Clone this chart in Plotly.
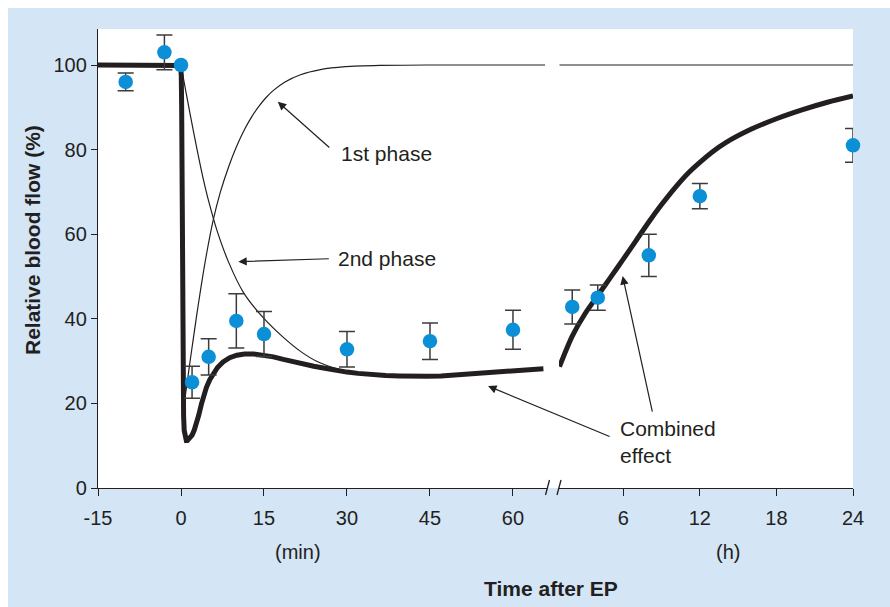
import plotly.graph_objects as go

# ---------------- data ----------------
# measured points, minutes after EP
min_t = [-10, -3, 0, 2, 5, 10, 15, 30, 45, 60]
min_y = [96.0, 103.0, 100.0, 25.0, 31.0, 39.5, 36.4, 32.8, 34.7, 37.4]
min_err = [2.1, 4.1, 0.0, 3.8, 4.3, 6.4, 5.3, 4.2, 4.3, 4.6]

# measured points, hours after EP
hour_t = [2, 4, 8, 12, 24]
hour_y = [42.8, 45.0, 55.0, 69.0, 81.0]
hour_err = [4.0, 3.0, 5.0, 3.0, 4.0]

# combined effect curve (thick)
comb_min_t = [-15, -0.6, -0.25, -0.05, 0.05, 0.12, 0.18, 0.24, 0.3, 0.38, 0.47, 0.58,
              0.72, 0.85, 0.96, 1.15, 1.4, 1.7, 2.0, 2.4, 2.8, 3.2, 3.7, 4.1, 4.6, 5.2,
              5.8, 6.6, 7.6, 8.8, 10.1, 11.5, 13.1, 14.8, 16.7, 18.5, 20, 22, 24, 26, 28,
              30, 32, 34.5, 37, 39.5, 42, 44.5, 47, 49.5, 52, 54.5, 57, 59.5, 62, 65.5]
comb_min_y = [100, 100, 99.9, 99.3, 97.5, 90, 70, 50, 35, 24, 17, 13.6,
              12.0, 11.4, 11.2, 11.2, 11.5, 11.9, 12.5, 13.7, 15.2, 17.2, 19.9, 21.9, 23.8,
              25.6, 27.0, 28.5, 29.8, 30.8, 31.4, 31.7, 31.7, 31.4, 31.0, 30.4, 29.9, 29.3,
              28.8, 28.3, 27.8, 27.4, 27.1, 26.8, 26.6, 26.5, 26.4, 26.4, 26.5, 26.7, 26.9,
              27.1, 27.4, 27.7, 27.9, 28.2]
comb_hour_t = [1.0, 2.0, 3.0, 4.0, 5.0, 6.0, 7.0, 8.0, 9.0, 10.0, 11.0, 12.0, 13.0, 14.0,
               16.0, 18.0, 20.0, 22.0, 24.0]
comb_hour_y = [28.7, 35.9, 41.2, 45.5, 49.8, 54.1, 58.5, 62.9, 67.0, 70.8, 74.2, 77.0,
               79.5, 81.6, 84.8, 87.3, 89.4, 91.2, 92.7]

# 1st phase curve (thin)
ph1_min_t = [0.3, 0.8, 1.7, 2.8, 3.7, 4.6, 5.8, 7.1, 8.6, 10.0, 11.5, 12.8, 14.0, 15.3,
             16.7, 18.8, 21.6, 25.2, 29.7, 36, 45, 55, 65.8]
ph1_min_y = [18, 22, 30.5, 40.5, 48.2, 55.2, 63.2, 69.9, 75.9, 80.6, 84.8, 87.8, 90.1,
             92.2, 94.0, 96.0, 97.7, 98.9, 99.6, 99.9, 100, 100, 100]
ph1_hour_t = [1.0, 24.0]
ph1_hour_y = [100, 100]

# 2nd phase curve (thin)
ph2_min_t = [0, 0.5, 1.2, 2.0, 3.0, 4.0, 5.0, 6.5, 8.6, 11.3, 14.9, 18.5, 21.6, 24.6,
             27.9, 31]
ph2_min_y = [100, 96.4, 91.5, 86.0, 79.4, 73.2, 67.8, 60.9, 53.4, 46.2, 40.2, 35.6,
             32.3, 29.9, 28.3, 27.3]

min_ticks = [-15, 0, 15, 30, 45, 60]
min_tick_text = ["-15", "0", "15", "30", "45", "60"]
hour_ticks = [6, 12, 18, 24]
y_ticks = [0, 20, 40, 60, 80, 100]

# ---------------- styling ----------------
W, H = 890, 607
ML, MR, MT, MB = 98, 37, 29, 119
PW, PH = W - ML - MR, H - MT - MB
INK = "#231f20"
BLUE_BG = "#d4e5f6"
DOT = "#0b8fd6"
FONT = "Liberation Sans, Arial, sans-serif"


def px(x):
    return (x - ML) / PW


def py(y):
    return (H - MB - y) / PH


fig = go.Figure()

line_thick = dict(color=INK, width=5, shape="linear")
line_thick_s = dict(color=INK, width=5, shape="spline", smoothing=0.8)
line_thin = dict(color=INK, width=1.2, shape="spline", smoothing=0.8)

fig.add_trace(go.Scatter(x=ph1_min_t, y=ph1_min_y, mode="lines", line=line_thin,
                         xaxis="x", yaxis="y", hoverinfo="skip"))
fig.add_trace(go.Scatter(x=ph2_min_t, y=ph2_min_y, mode="lines", line=line_thin,
                         xaxis="x", yaxis="y", hoverinfo="skip"))
fig.add_trace(go.Scatter(x=comb_min_t, y=comb_min_y, mode="lines", line=line_thick,
                         xaxis="x", yaxis="y", hoverinfo="skip"))
fig.add_trace(go.Scatter(x=ph1_hour_t, y=ph1_hour_y, mode="lines", line=line_thin,
                         xaxis="x2", yaxis="y", hoverinfo="skip"))
fig.add_trace(go.Scatter(x=comb_hour_t, y=comb_hour_y, mode="lines", line=line_thick_s,
                         xaxis="x2", yaxis="y", hoverinfo="skip"))

err_style = dict(type="data", visible=True, color="#3c3c3c", thickness=1.5, width=8)

e_t = [t for t, e in zip(min_t, min_err) if e > 0]
e_y = [v for v, e in zip(min_y, min_err) if e > 0]
e_e = [e for e in min_err if e > 0]
n_t = [t for t, e in zip(min_t, min_err) if e <= 0]
n_y = [v for v, e in zip(min_y, min_err) if e <= 0]

fig.add_trace(go.Scatter(x=e_t, y=e_y, mode="markers", xaxis="x", yaxis="y",
                         marker=dict(size=14.5, color=DOT),
                         error_y=dict(array=e_e, **err_style), cliponaxis=False))
fig.add_trace(go.Scatter(x=n_t, y=n_y, mode="markers", xaxis="x", yaxis="y",
                         marker=dict(size=14.5, color=DOT), cliponaxis=False))
fig.add_trace(go.Scatter(x=hour_t, y=hour_y, mode="markers", xaxis="x2", yaxis="y",
                         marker=dict(size=14.5, color=DOT),
                         error_y=dict(array=hour_err, **err_style), cliponaxis=False))

axis_common = dict(showline=True, linecolor=INK, linewidth=1.3, ticks="outside",
                   tickcolor=INK, tickwidth=1.3, showgrid=False, zeroline=False,
                   tickfont=dict(family=FONT, size=20, color=INK))

fig.update_layout(
    width=W, height=H,
    margin=dict(l=ML, r=MR, t=MT, b=MB),
    paper_bgcolor="white", plot_bgcolor="white",
    showlegend=False,
    font=dict(family=FONT, color=INK),
    xaxis=dict(domain=[0, px(546.7)], range=[-15, -15 + (546.7 - ML) / 5.533],
               tickvals=min_ticks, ticktext=min_tick_text, ticklen=7,
               ticklabelstandoff=5, anchor="y", **axis_common),
    xaxis2=dict(domain=[px(559), 1], range=[(559 - 546.7) / 12.78, 24],
                tickvals=hour_ticks, ticklen=7, ticklabelstandoff=5, anchor="y",
                **axis_common),
    yaxis=dict(range=[0, PH / 4.23], tickvals=y_ticks, ticklen=6, anchor="x",
               **axis_common),
)

shapes = [
    dict(type="rect", xref="paper", yref="paper", x0=px(8), x1=px(W), y0=py(H), y1=py(8),
         fillcolor=BLUE_BG, line=dict(width=0), layer="below"),
    dict(type="rect", xref="paper", yref="paper", x0=0, x1=1, y0=0, y1=1,
         fillcolor="white", line=dict(width=0), layer="below"),
    dict(type="line", xref="paper", yref="paper", x0=px(545.5), x1=px(549.5),
         y0=py(495), y1=py(480), line=dict(color=INK, width=1.3)),
    dict(type="line", xref="paper", yref="paper", x0=px(557), x1=px(561),
         y0=py(495), y1=py(480), line=dict(color=INK, width=1.3)),
]
fig.update_layout(shapes=shapes)

arrow = dict(showarrow=True, arrowhead=2, arrowsize=1.4, arrowwidth=1.2,
             arrowcolor=INK, text="", axref="pixel", ayref="pixel")
ann = [
    dict(x=17.5, y=91.3, xref="x", yref="y", ax=53, ay=47, **arrow),
    dict(x=10.36, y=53.5, xref="x", yref="y", ax=92, ay=-3, **arrow),
    dict(x=55.5, y=24.1, xref="x", yref="y", ax=123, ay=51, **arrow),
    dict(x=5.95, y=50.1, xref="x2", yref="y", ax=30, ay=137, **arrow),
]
txt = dict(showarrow=False, xref="paper", yref="paper",
           font=dict(family=FONT, size=21, color=INK))
ann += [
    dict(text="1st phase", x=px(339), y=py(153), xanchor="left", yanchor="middle", **txt),
    dict(text="2nd phase", x=px(336), y=py(258), xanchor="left", yanchor="middle", **txt),
    dict(text="Combined<br>effect", x=px(618), y=py(442), xanchor="left",
         yanchor="middle", align="left", **txt),
    dict(text="(min)", x=px(298), y=py(552), xanchor="center", yanchor="middle",
         showarrow=False, xref="paper", yref="paper",
         font=dict(family=FONT, size=20, color=INK)),
    dict(text="(h)", x=px(728), y=py(552), xanchor="center", yanchor="middle",
         showarrow=False, xref="paper", yref="paper",
         font=dict(family=FONT, size=20, color=INK)),
    dict(text="<b>Time after EP</b>", x=px(551), y=py(588), xanchor="center",
         yanchor="middle", showarrow=False, xref="paper", yref="paper",
         font=dict(family=FONT, size=21, color=INK)),
    dict(text="<b>Relative blood flow (%)</b>", x=px(33), y=py(240), xanchor="center",
         yanchor="middle", textangle=-90, showarrow=False, xref="paper", yref="paper",
         font=dict(family=FONT, size=21, color=INK)),
]
fig.update_layout(annotations=ann)

fig.write_html("out.html", config={"displayModeBar": False})
